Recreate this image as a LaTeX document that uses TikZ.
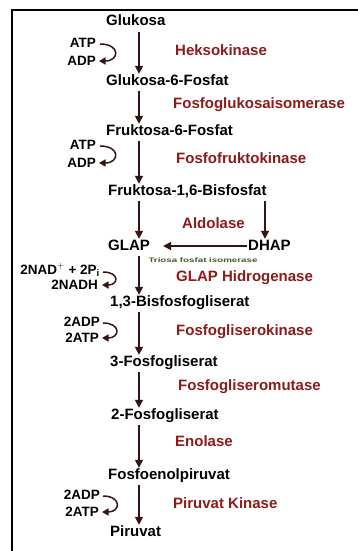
\documentclass[tikz,border=0pt]{standalone}
\usepackage{fontspec}
\setmainfont{Liberation Sans}
\usetikzlibrary{arrows.meta}
\definecolor{enz}{RGB}{140,28,28}
\definecolor{arr}{RGB}{55,20,20}
\definecolor{tri}{RGB}{70,90,40}
\begin{document}
\begin{tikzpicture}[x=1pt,y=-1pt,
  mainlbl/.style={font=\bfseries\fontsize{15}{15}\selectfont, anchor=west, inner sep=0pt, text height=11pt, text depth=3pt},
  enzlbl/.style={font=\bfseries\fontsize{15}{15}\selectfont, text=enz, anchor=west, inner sep=0pt},
  coflbl/.style={font=\bfseries\fontsize{13.5}{13.5}\selectfont, anchor=east, inner sep=0pt},
  flow/.style={-{Triangle[length=8pt,width=8pt]}, line width=1.7pt, draw=arr, shorten <=3pt, shorten >=0pt},
  cyc/.style={-{Triangle[length=6.5pt,width=7pt]}, line width=1.5pt, draw=arr},
  trilbl/.style={font=\bfseries\fontsize{6.5}{6.5}\selectfont, text=tri, inner sep=0pt, xscale=1.5, transform shape}
]
\useasboundingbox (0,0) rectangle (358,551);
\fill[white] (0,0) rectangle (358,551);
\draw[line width=2.2pt] (12,551) -- (12,10) -- (358,10);

\coordinate (ax) at (139,0);
\coordinate (axr) at (265,0);

% main chain
\node[mainlbl] (glu) at (106,22) {Glukosa};
\node[mainlbl] (g6p) at (106,81) {Glukosa-6-Fosfat};
\node[mainlbl] (f6p) at (106,131) {Fruktosa-6-Fosfat};
\node[mainlbl] (f16) at (108,191) {Fruktosa-1,6-Bisfosfat};
\node[mainlbl] (glap) at (108,246) {GLAP};
\node[mainlbl] (dhap) at (248,246) {DHAP};
\node[mainlbl] (bpg) at (110,302) {1,3-Bisfosfogliserat};
\node[mainlbl] (pg3) at (110,362) {3-Fosfogliserat};
\node[mainlbl] (pg2) at (111,415) {2-Fosfogliserat};
\node[mainlbl] (pep) at (108,475) {Fosfoenolpiruvat};
\node[mainlbl] (pyr) at (110,532) {Piruvat};

% enzymes
\node[enzlbl] (e1) at (175,50) {Heksokinase};
\node[enzlbl] (e2) at (173,105) {Fosfoglukosaisomerase};
\node[enzlbl] (e3) at (176,158) {Fosfofruktokinase};
\node[enzlbl] (e4) at (182,223) {Aldolase};
\node[enzlbl] (e5) at (176,278) {GLAP Hidrogenase};
\node[enzlbl] (e6) at (176,332) {Fosfogliserokinase};
\node[enzlbl] (e7) at (178,387) {Fosfogliseromutase};
\node[enzlbl] (e8) at (175,441) {Enolase};
\node[enzlbl] (e9) at (173,503) {Piruvat Kinase};
\node[trilbl] (tpi) at (203,260) {Triosa fosfat isomerase};

% cofactors
\node[coflbl] (c1a) at (96,43) {ATP};
\node[coflbl] (c1b) at (96,61) {ADP};
\node[coflbl] (c2a) at (96,145) {ATP};
\node[coflbl] (c2b) at (96,163) {ADP};
\node[coflbl] (c3a) at (100,270) {2NAD$^{+}$ + 2P\textsubscript{i}};
\node[coflbl] (c3b) at (98,285) {2NADH};
\node[coflbl] (c4a) at (100,322) {2ADP};
\node[coflbl] (c4b) at (99,338) {2ATP};
\node[coflbl] (c5a) at (100,495) {2ADP};
\node[coflbl] (c5b) at (99,512) {2ATP};

% main arrows
\draw[flow] (glu.south -| ax) -- (g6p.north -| ax);
\draw[flow] (g6p.south -| ax) -- (f6p.north -| ax);
\draw[flow] (f6p.south -| ax) -- (f16.north -| ax);
\draw[flow] (f16.south -| ax) -- (glap.north -| ax);
\draw[flow] (f16.south -| axr) -- (dhap.north -| axr);
\draw[flow, shorten <=1pt, shorten >=13pt] (dhap.west) -- (glap.east);
\draw[flow] (glap.south -| ax) -- (bpg.north -| ax);
\draw[flow] (bpg.south -| ax) -- (pg3.north -| ax);
\draw[flow] (pg3.south -| ax) -- (pg2.north -| ax);
\draw[flow] (pg2.south -| ax) -- (pep.north -| ax);
\draw[flow] (pep.south -| ax) -- (pyr.north -| ax);

% cofactor curves
\draw[cyc] ([xshift=4pt,yshift=-1pt]c1a.east) to[out=0,in=0,looseness=3.1] ([xshift=3pt]c1b.east);
\draw[cyc] ([xshift=4pt,yshift=-1pt]c2a.east) to[out=0,in=0,looseness=3.1] ([xshift=3pt]c2b.east);
\draw[cyc] ([xshift=3pt,yshift=-2pt]c3a.east) to[out=0,in=0,looseness=3.3] ([xshift=4pt]c3b.east);
\draw[cyc] ([xshift=3pt,yshift=-1pt]c4a.east) to[out=0,in=0,looseness=3.1] ([xshift=3pt]c4b.east);
\draw[cyc] ([xshift=3pt,yshift=-1pt]c5a.east) to[out=0,in=0,looseness=3.0] ([xshift=3pt]c5b.east);
\end{tikzpicture}
\end{document}
